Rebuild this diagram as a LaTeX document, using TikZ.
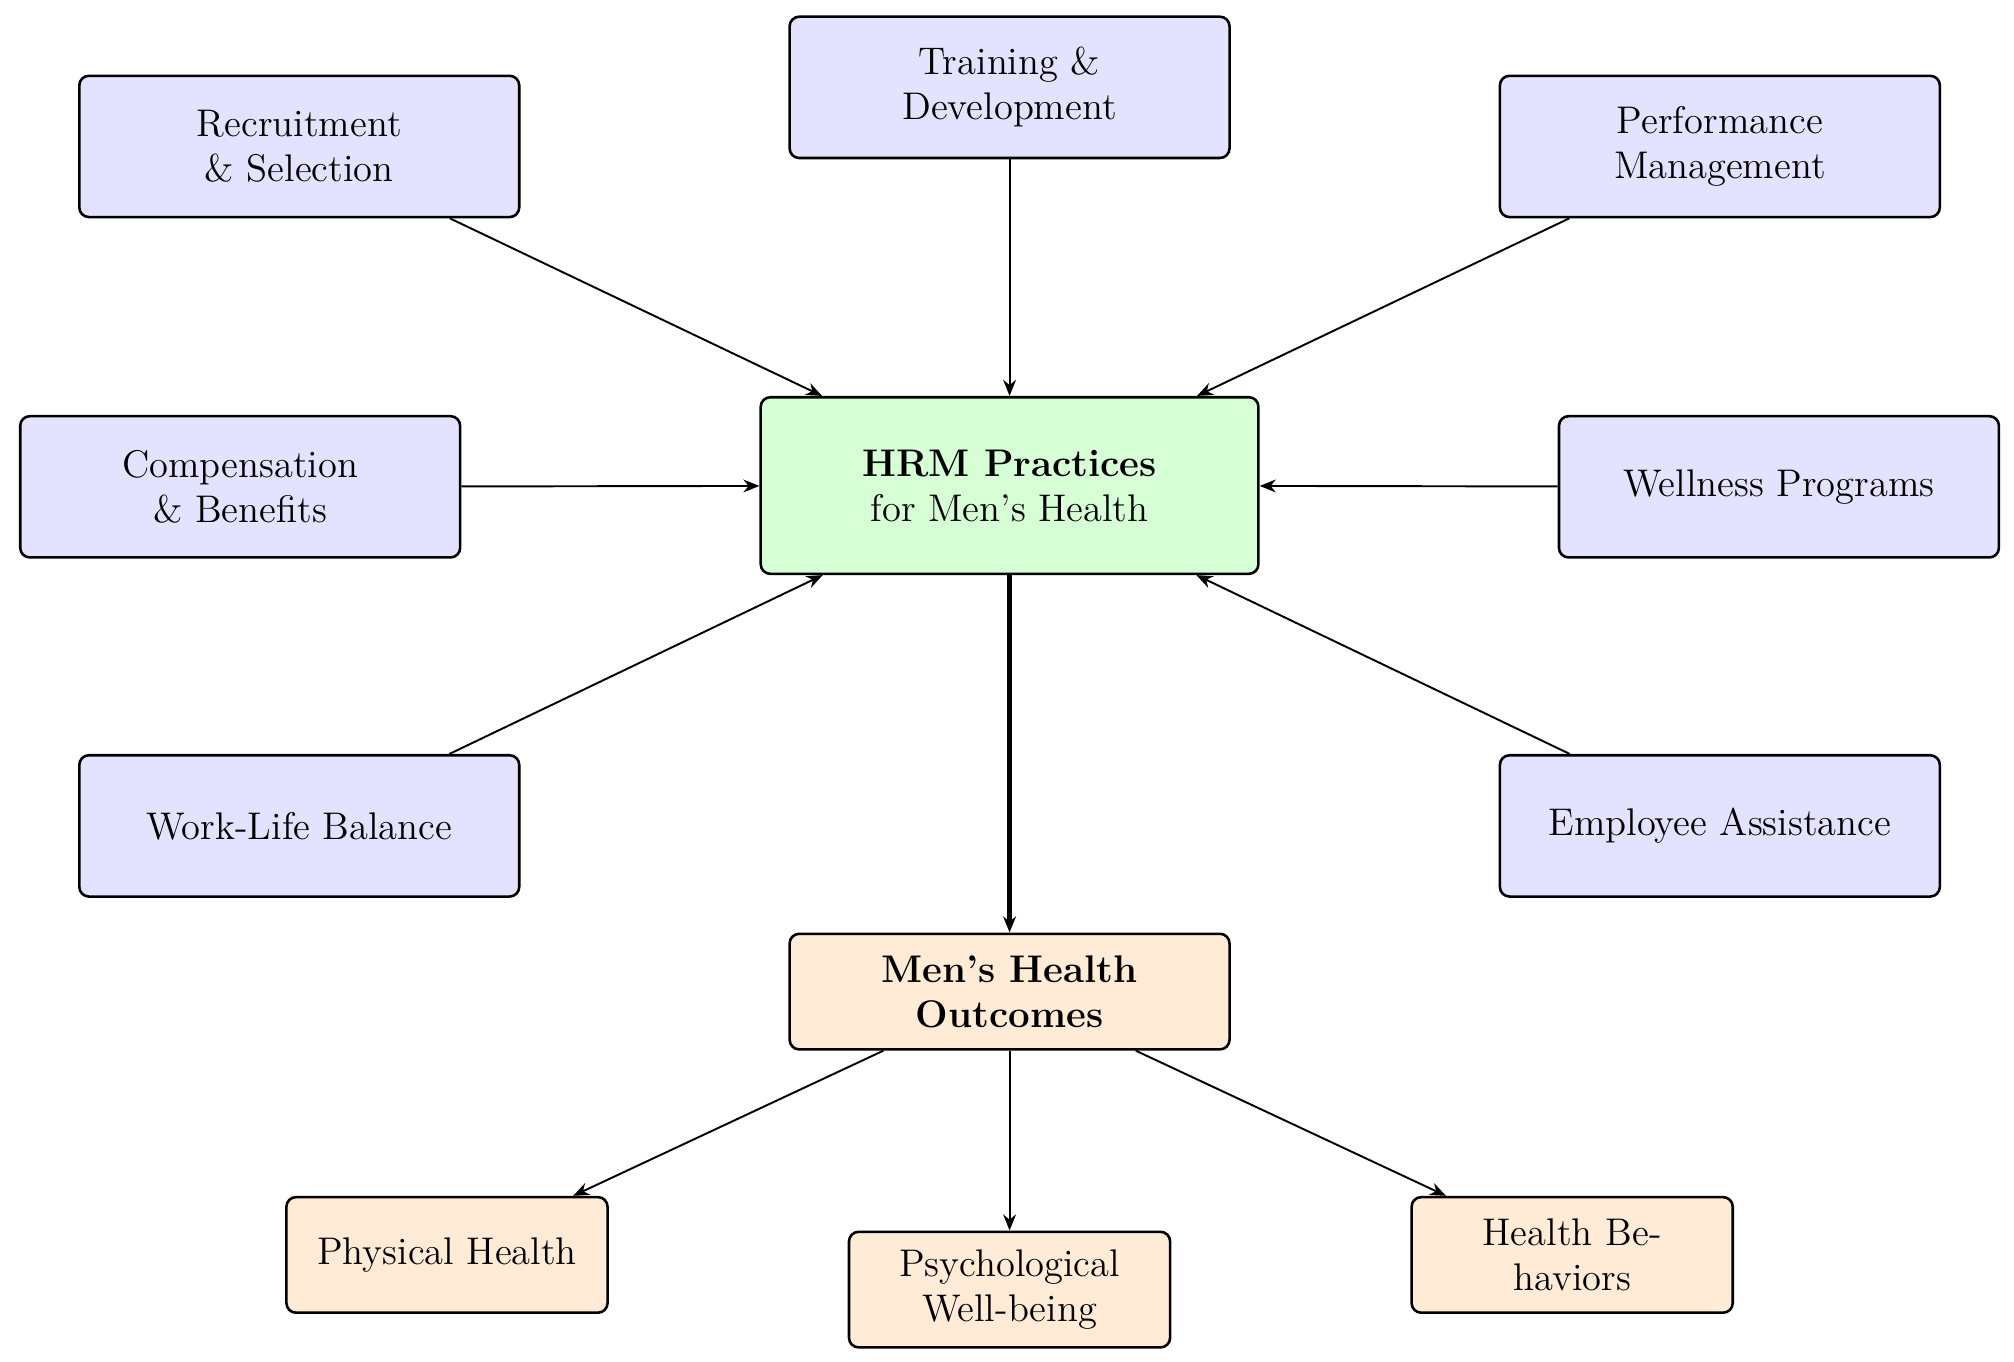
\documentclass[tikz,border=0pt]{standalone}
\usepackage{xcolor}
\usepackage{tikz}
\usetikzlibrary{arrows.meta}

\tikzset{
  practice/.style={draw, line width=0.8pt, rounded corners=3pt, fill=blue!11, align=center,
    minimum width=137pt, minimum height=44pt, font=\large},
  core/.style={draw, line width=0.8pt, rounded corners=3pt, fill=green!16, align=center,
    minimum width=155pt, minimum height=55pt, font=\large},
  outcome/.style={draw, line width=0.8pt, rounded corners=3pt, fill=orange!16, align=center,
    minimum width=100pt, minimum height=36pt, font=\large},
  link/.style={-{Stealth[length=5pt,width=4pt]}, line width=0.6pt},
}

\begin{document}
\begin{tikzpicture}[x=0.4pt,y=0.4pt,yscale=-1]
\useasboundingbox (0,0) rectangle (1568,1060);

% HR practices
\node[practice] (train) at (786,68) {Training \&\\Development};
\node[practice] (recruit) at (233,114) {Recruitment\\\& Selection};
\node[practice] (perform) at (1339,114) {Performance\\Management};
\node[practice] (comp) at (187,379) {Compensation\\\& Benefits};
\node[practice] (well) at (1385,379) {Wellness Programs};
\node[practice] (balance) at (233,643) {Work-Life Balance};
\node[practice] (assist) at (1339,643) {Employee Assistance};

% center
\node[core] (hrm) at (786,378) {\textbf{HRM Practices}\\for Men's Health};

% outcomes
\node[outcome, minimum width=137pt] (health) at (786,772) {\textbf{Men's Health}\\\textbf{Outcomes}};
\node[outcome] (phys) at (348,977) {Physical Health};
\node[outcome] (psych) at (786,1004) {Psychological\\Well-being};
\node[outcome, text width=80pt] (behav) at (1224,977) {Health Be-\\haviors};

\foreach \src in {train,recruit,perform,comp,well,balance,assist}
  \draw[link] (\src) -- (hrm);
\draw[link, line width=1.6pt] (hrm) -- (health);
\foreach \dst in {phys,psych,behav}
  \draw[link] (health) -- (\dst);

\end{tikzpicture}
\end{document}
